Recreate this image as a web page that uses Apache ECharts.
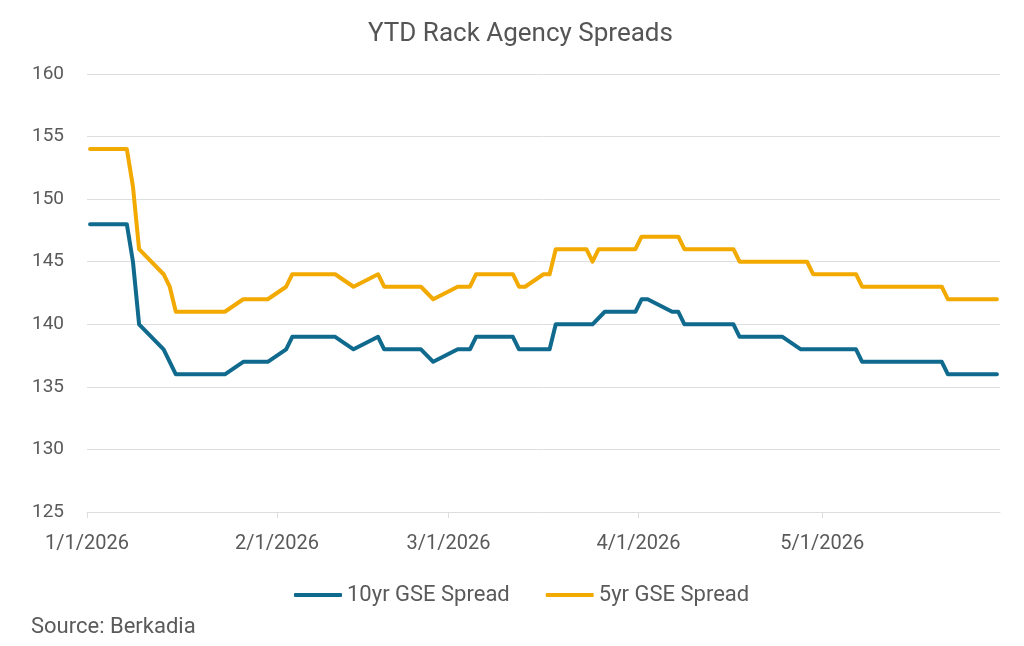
<!DOCTYPE html>
<html>
<head>
<meta charset="utf-8">
<script src="https://cdn.jsdelivr.net/npm/echarts@6/dist/echarts.min.js"></script>
<style>html,body{margin:0;padding:0;background:#fff}#c{width:1024px;height:646px}</style>
</head>
<body>
<div id="c"></div>
<script>
// ---- data (vertices) ----
const seriesNames = ['10yr GSE Spread', '5yr GSE Spread'];
const dates10 = ['2026-01-01','2026-01-07','2026-01-08','2026-01-09','2026-01-13','2026-01-15','2026-01-23','2026-01-26','2026-01-30','2026-02-02','2026-02-03','2026-02-10','2026-02-13','2026-02-17','2026-02-18','2026-02-24','2026-02-26','2026-03-02','2026-03-04','2026-03-05','2026-03-11','2026-03-12','2026-03-17','2026-03-18','2026-03-24','2026-03-26','2026-03-31','2026-04-01','2026-04-02','2026-04-06','2026-04-07','2026-04-08','2026-04-16','2026-04-17','2026-04-24','2026-04-27','2026-05-06','2026-05-07','2026-05-20','2026-05-21','2026-05-29'];
const values10 = [148,148,145,140,138,136,136,137,137,138,139,139,138,139,138,138,137,138,138,139,139,138,138,140,140,141,141,142,142,141,141,140,140,139,139,138,138,137,137,136,136];
const dates5 = ['2026-01-01','2026-01-07','2026-01-08','2026-01-09','2026-01-13','2026-01-14','2026-01-15','2026-01-23','2026-01-26','2026-01-30','2026-02-02','2026-02-03','2026-02-10','2026-02-13','2026-02-17','2026-02-18','2026-02-24','2026-02-26','2026-03-02','2026-03-04','2026-03-05','2026-03-11','2026-03-12','2026-03-13','2026-03-16','2026-03-17','2026-03-18','2026-03-23','2026-03-24','2026-03-25','2026-03-31','2026-04-01','2026-04-07','2026-04-08','2026-04-16','2026-04-17','2026-04-28','2026-04-29','2026-05-06','2026-05-07','2026-05-20','2026-05-21','2026-05-29'];
const values5 = [154,154,151,146,144,143,141,141,142,142,143,144,144,143,144,143,143,142,143,143,144,144,143,143,144,144,146,146,145,146,146,147,147,146,146,145,145,144,144,143,143,142,142];
const tickDates = ['2026-01-01','2026-02-01','2026-03-01','2026-04-01','2026-05-01'];
const xRange = ['2026-01-01','2026-05-30'];
const yTicks = [125,130,135,140,145,150,155,160];

// ---- helpers: x is measured in days since the first day of the range ----
const DAY = 86400000;
function utc(s){ const p = s.split('-').map(Number); return Date.UTC(p[0], p[1]-1, p[2]); }
const t0 = utc(xRange[0]);
function dayNum(s){ return Math.round((utc(s) - t0) / DAY); }
function pairs(ds, vs){ return ds.map((d,i)=>[dayNum(d) + 0.5, vs[i]]); }
const tickNums = tickDates.map(dayNum);
function fmt(v){ const i = tickNums.indexOf(Math.round(v)); if (i < 0) return '';
  const p = tickDates[i].split('-').map(Number); return p[1] + '/' + p[2] + '/' + p[0]; }

const FONT = 'Roboto';
const TXT = '#5a5a5a';
const GRID = '#dedede';
const BLUE = '#106a8e';
const ORANGE = '#f2a900';

const chart = echarts.init(document.getElementById('c'), null, {renderer:'canvas'});
chart.setOption({
  animation:false,
  backgroundColor:'#fff',
  title:{ text:'YTD Rack Agency Spreads', left:363, top:16,
    textStyle:{ fontFamily:FONT, fontSize:26, fontWeight:'normal', color:'#555' } },
  legend:{ left:289, top:579, itemWidth:48, itemHeight:4, itemGap:36, icon:'roundRect',
    data:seriesNames,
    textStyle:{ fontFamily:FONT, fontSize:22, color:TXT } },
  grid:{ left:87, right:24, top:74, bottom:134, containLabel:false },
  xAxis:{ type:'value', min:dayNum(xRange[0]), max:dayNum(xRange[1]),
    axisLine:{ show:true, lineStyle:{ color:GRID, width:1 } },
    axisTick:{ show:true, length:6, lineStyle:{ color:GRID }, customValues:tickNums },
    axisLabel:{ customValues:tickNums, formatter:fmt, margin:22,
      fontFamily:FONT, fontSize:20, color:TXT },
    splitLine:{ show:false } },
  yAxis:{ type:'value', min:yTicks[0], max:yTicks[yTicks.length-1], interval:5,
    axisLine:{ show:false }, axisTick:{ show:false },
    axisLabel:{ margin:23, fontFamily:FONT, fontSize:19, color:TXT },
    splitLine:{ show:true, lineStyle:{ color:GRID, width:1 } } },
  series:[
    { name:seriesNames[0], type:'line', data:pairs(dates10, values10), symbol:'none', color:BLUE,
      lineStyle:{ width:4, color:BLUE, cap:'round', join:'round' } },
    { name:seriesNames[1], type:'line', data:pairs(dates5, values5), symbol:'none', color:ORANGE,
      lineStyle:{ width:4, color:ORANGE, cap:'round', join:'round' } }
  ],
  graphic:[{ type:'text', left:31, top:616,
    style:{ text:'Source: Berkadia', fontFamily:FONT, fontSize:22, fill:TXT } }]
});
</script>
</body>
</html>
